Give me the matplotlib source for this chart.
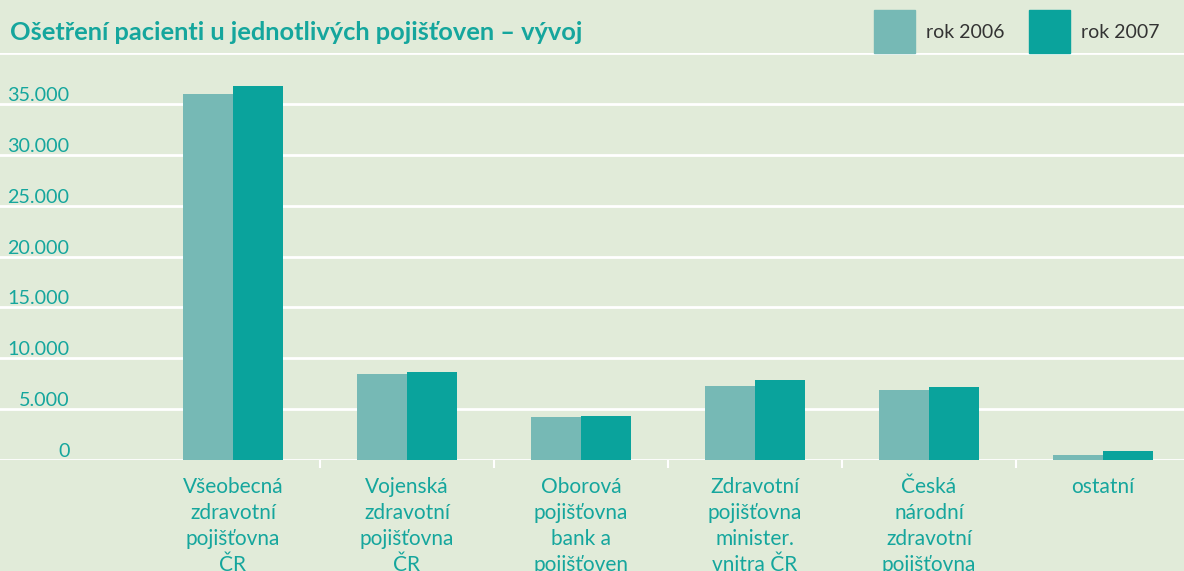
import matplotlib
matplotlib.use('Agg')
import matplotlib.pyplot as plt
import numpy as np

kategorie = ['Všeobecná\nzdravotní\npojišťovna\nČR',
             'Vojenská\nzdravotní\npojišťovna\nČR',
             'Oborová\npojišťovna\nbank a\npojišťoven',
             'Zdravotní\npojišťovna\nminister.\nvnitra ČR',
             'Česká\nnárodní\nzdravotní\npojišťovna',
             'ostatní']
rok_2006 = [36000, 8450, 4200, 7250, 6850, 500]
rok_2007 = [36800, 8650, 4300, 7850, 7150, 850]
y_ticks = [0, 5000, 10000, 15000, 20000, 25000, 30000, 35000]
y_labels = ['0', '5.000', '10.000', '15.000', '20.000', '25.000', '30.000', '35.000']

bg = '#e1ebd9'
c2006 = '#76b9b5'
c2007 = '#0aa39c'
teal = '#15a69d'
fnt = ['Lato', 'DejaVu Sans']
plt.rcParams['font.family'] = fnt

fig = plt.figure(figsize=(11.84, 5.71), dpi=100, facecolor=bg)
ax = fig.add_axes([0, (571 - 460) / 571, 1, (460 - 53) / 571])
ax.set_facecolor(bg)

x = np.arange(len(kategorie))
w = 0.287
ax.bar(x - w / 2, rok_2006, w, color=c2006, zorder=3)
ax.bar(x + w / 2, rok_2007, w, color=c2007, zorder=3)

ax.set_xlim(-233 / 174, (1184 - 233) / 174)
ax.set_ylim(0, 40000)
for v in y_ticks + [40000]:
    ax.axhline(v, color='white', lw=2, zorder=1)

for s in ax.spines.values():
    s.set_visible(False)

ax.set_yticks(y_ticks)
ax.set_yticklabels(y_labels, color=teal, fontsize=14.2, va='bottom')
ax.tick_params(axis='y', length=0, pad=-50)

ax.set_xticks(x)
ax.set_xticklabels(kategorie, color=teal, fontsize=15, linespacing=1.38)
ax.set_xticks(x[:-1] + 0.5, minor=True)
ax.tick_params(axis='x', which='major', length=0, pad=12)
ax.tick_params(axis='x', which='minor', length=6, width=1.5, color='white')

fig.text(10 / 1184, 1 - 33 / 571, 'Ošetření pacienti u jednotlivých pojišťoven – vývoj',
         color=teal, fontsize=18.3, fontweight='bold', va='center', ha='left')

# legenda
for px, col, lab in [(874, c2006, 'rok 2006'), (1029, c2007, 'rok 2007')]:
    fig.patches.append(plt.Rectangle((px / 1184, 1 - 53 / 571), 41 / 1184, 43 / 571,
                                     transform=fig.transFigure, color=col, figure=fig))
    fig.text((px + 52) / 1184, 1 - 32 / 571, lab, color='#333333', fontsize=14,
             va='center', ha='left')

fig.savefig('out.png', dpi=100, facecolor=bg)
